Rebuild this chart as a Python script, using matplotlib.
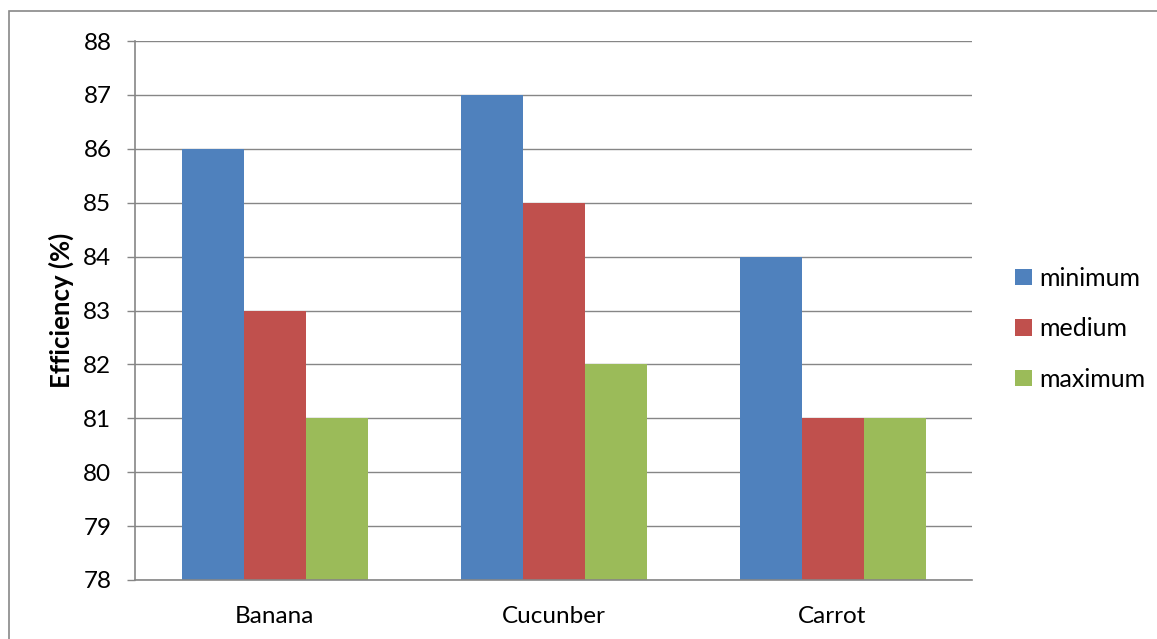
import numpy as np
import matplotlib
matplotlib.use("Agg")
import matplotlib.pyplot as plt
from matplotlib.patches import Rectangle

# values
categories = ["Banana", "Cucunber", "Carrot"]
series_names = ["minimum", "medium", "maximum"]
minimum = [86, 87, 84]
medium = [83, 85, 81]
maximum = [81, 82, 81]
colors = ["#4F81BD", "#C0504D", "#9BBB59"]

plt.rcParams["font.family"] = ["Lato", "DejaVu Sans"]

W, H = 1157, 639
fig = plt.figure(figsize=(W / 100, H / 100), dpi=100)
ax = fig.add_axes([135 / W, 1 - 580 / H, (972 - 135) / W, (580 - 41) / H])

# outer chart border (clipped at right/bottom in the original)
fig.patches.append(Rectangle((9 / W, -0.1), 1.2, 1 - 11 / H + 0.1,
                             transform=fig.transFigure, fill=False,
                             edgecolor="#888888", linewidth=1.2))

x = np.arange(len(categories))
bw = 1 / 4.5
for i, (vals, name) in enumerate(zip([minimum, medium, maximum], series_names)):
    ax.bar(x + (i - 1) * bw, np.array(vals) - 78, bw, bottom=78,
           color=colors[i], label=name, zorder=3)

ax.set_xlim(-0.5, 2.5)
ax.set_ylim(78, 88)
ax.set_yticks(range(78, 89))
ax.set_xticks(x)
ax.set_xticklabels(categories)
ax.grid(axis="y", color="#868686", linewidth=1.0, zorder=0)
for s in ["top", "right"]:
    ax.spines[s].set_visible(False)
for s in ["left", "bottom"]:
    ax.spines[s].set_color("#868686")
    ax.spines[s].set_linewidth(1.2)
    ax.spines[s].set_zorder(4)
ax.tick_params(axis="y", length=6, color="#868686", width=1.0, pad=11, labelsize=17.5)
ax.tick_params(axis="x", length=0, pad=18.5, labelsize=17.5)
ax.set_ylabel("Efficiency (%)", fontsize=18.5, fontweight="bold", labelpad=7)

ax.legend(loc="center left", bbox_to_anchor=(1.025, 0.466), frameon=False,
          fontsize=18, handlelength=0.65, handleheight=0.65, handletextpad=0.3,
          labelspacing=1.1)

fig.savefig("out.png", dpi=100)
